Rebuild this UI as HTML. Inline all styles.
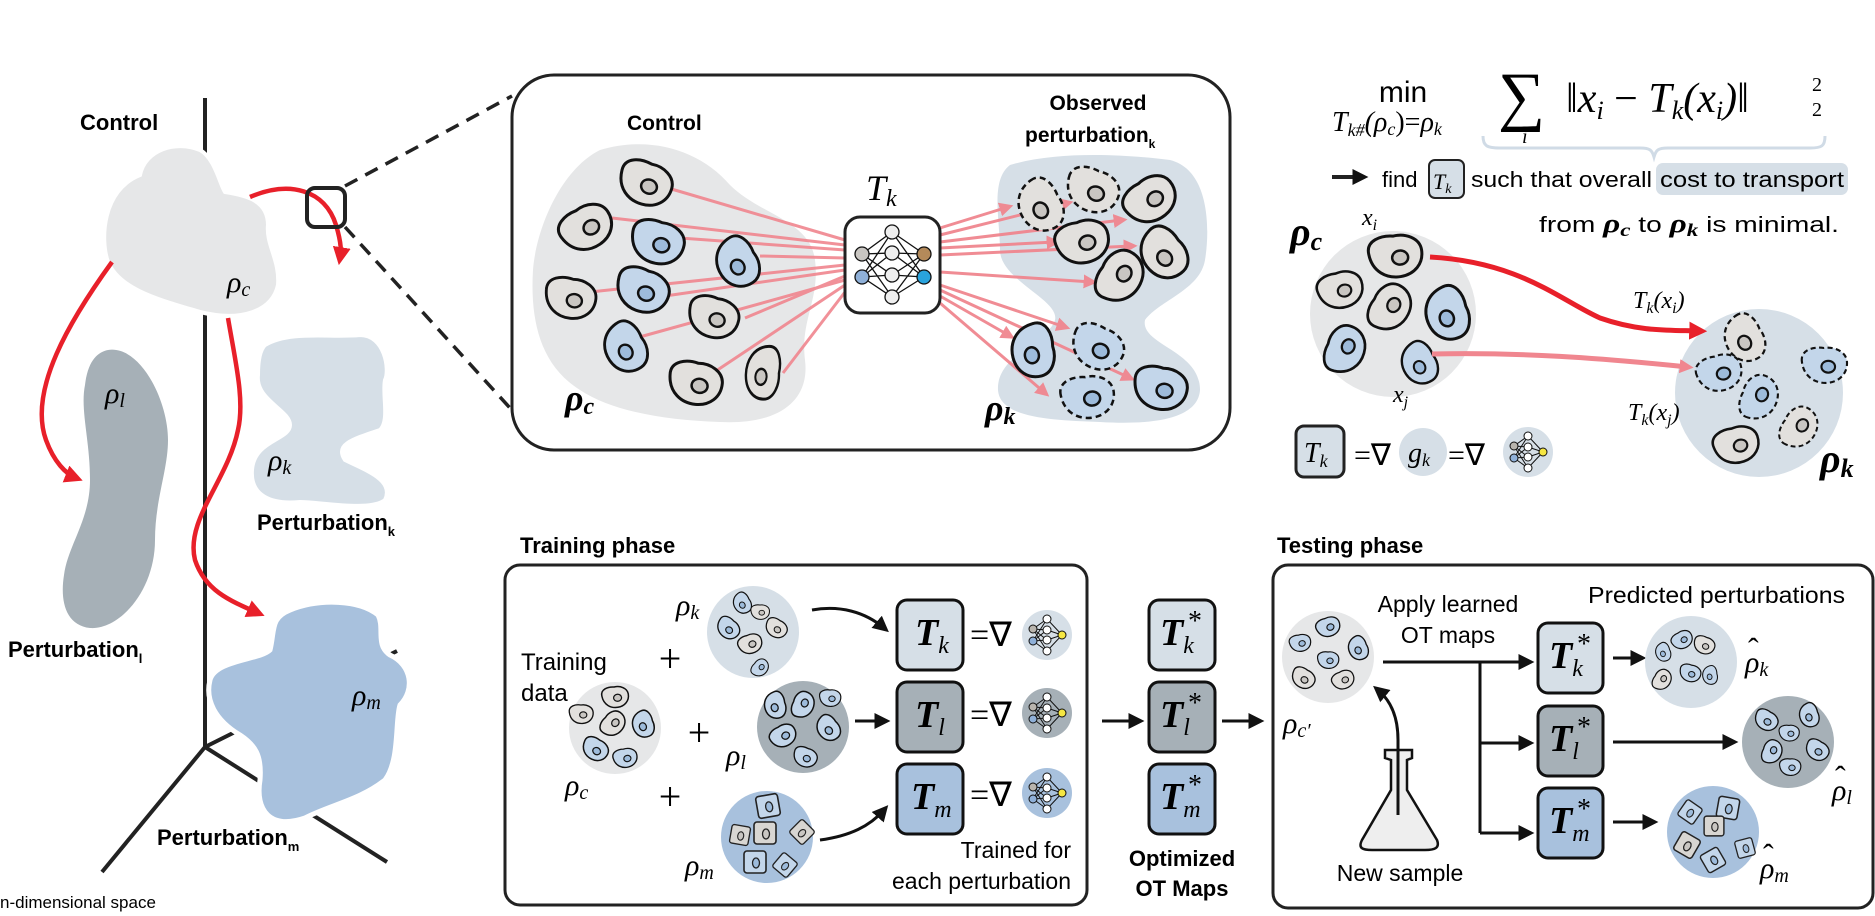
<!DOCTYPE html>
<html><head><meta charset="utf-8"><style>
html,body{margin:0;padding:0;background:#fff;}
svg{display:block;}
.s{font-family:"Liberation Sans",sans-serif;}
.b{font-family:"Liberation Sans",sans-serif;font-weight:bold;}
.m{font-family:"Liberation Serif",serif;font-style:italic;}
.r{font-family:"Liberation Serif",serif;}
</style></head><body>
<svg width="1875" height="916" viewBox="0 0 1875 916" xmlns="http://www.w3.org/2000/svg">
<defs>
<marker id="ar" viewBox="0 0 10 10" refX="6" refY="5" markerWidth="18" markerHeight="18" markerUnits="userSpaceOnUse" orient="auto"><path d="M0,0 L10,5 L0,10 z" fill="#e8202a"/></marker>
<marker id="ap" viewBox="0 0 10 10" refX="6" refY="5" markerWidth="14" markerHeight="14" markerUnits="userSpaceOnUse" orient="auto"><path d="M0,0 L10,5 L0,10 z" fill="#f0868f"/></marker>
<marker id="ak" viewBox="0 0 10 10" refX="6" refY="5" markerWidth="16" markerHeight="16" markerUnits="userSpaceOnUse" orient="auto"><path d="M0,0 L10,5 L0,10 z" fill="#111"/></marker>
<g id="cg"><path d="M-26,-4 C-28,-18 -12,-22 0,-20 C12,-22 26,-16 27,-4 C28,10 18,20 4,21 C-10,22 -24,14 -26,-4Z" fill="#e2e0dd" stroke="#111" stroke-width="3"/><ellipse cx="5" cy="2" rx="8" ry="7" fill="#c9c6c2" stroke="#111" stroke-width="2.5"/></g>
<g id="cb"><path d="M-26,-4 C-28,-18 -12,-22 0,-20 C12,-22 26,-16 27,-4 C28,10 18,20 4,21 C-10,22 -24,14 -26,-4Z" fill="#c3d6ea" stroke="#111" stroke-width="3"/><ellipse cx="5" cy="2" rx="8" ry="7" fill="#9dbbdb" stroke="#111" stroke-width="2.5"/></g>
<g id="dg"><path d="M-26,-4 C-28,-18 -12,-22 0,-20 C12,-22 26,-16 27,-4 C28,10 18,20 4,21 C-10,22 -24,14 -26,-4Z" fill="#e2e0dd" stroke="#111" stroke-width="2.5" stroke-dasharray="6 4"/><ellipse cx="5" cy="2" rx="8" ry="7" fill="#c9c6c2" stroke="#111" stroke-width="2.5"/></g>
<g id="db"><path d="M-26,-4 C-28,-18 -12,-22 0,-20 C12,-22 26,-16 27,-4 C28,10 18,20 4,21 C-10,22 -24,14 -26,-4Z" fill="#c3d6ea" stroke="#111" stroke-width="2.5" stroke-dasharray="6 4"/><ellipse cx="5" cy="2" rx="8" ry="7" fill="#9dbbdb" stroke="#111" stroke-width="2.5"/></g>
<g id="sq"><rect x="-11" y="-11" width="22" height="22" rx="3" fill="#c3d6ea" stroke="#222" stroke-width="1.6"/><ellipse cx="1" cy="1" rx="3.5" ry="5" fill="#9dbbdb" stroke="#222" stroke-width="1.3"/></g>
<g id="sqg"><rect x="-11" y="-11" width="22" height="22" rx="3" fill="#d8d6d2" stroke="#222" stroke-width="1.6"/><ellipse cx="1" cy="1" rx="3.5" ry="5" fill="#c9c6c2" stroke="#222" stroke-width="1.3"/></g>
<g id="nn" stroke="#111" stroke-width="1">
<path d="M-14,-6 L0,-16 M-14,-6 L0,-5 M-14,-6 L0,5 M-14,-6 L0,16 M-14,6 L0,-16 M-14,6 L0,-5 M-14,6 L0,5 M-14,6 L0,16 M0,-16 L15,0 M0,-5 L15,0 M0,5 L15,0 M0,16 L15,0" fill="none"/>
<circle cx="-14" cy="-6" r="4" fill="#b8b4ad"/><circle cx="-14" cy="6" r="4" fill="#8fb0d8"/>
<circle cx="0" cy="-16" r="4" fill="#fff"/><circle cx="0" cy="-5" r="4" fill="#fff"/><circle cx="0" cy="5" r="4" fill="#fff"/><circle cx="0" cy="16" r="4" fill="#fff"/>
<circle cx="15" cy="0" r="4" fill="#f5e642"/>
</g>
</defs>

<!-- LEFT PANEL -->
<line x1="205" y1="98" x2="205" y2="747" stroke="#222" stroke-width="4"/>
<line x1="205" y1="747" x2="102" y2="872" stroke="#222" stroke-width="4"/>
<line x1="205" y1="747" x2="397" y2="651" stroke="#222" stroke-width="4"/>
<line x1="205" y1="747" x2="387" y2="862" stroke="#222" stroke-width="4"/>
<path d="M140,175 C145,150 175,140 200,150 C215,158 220,185 225,192 C245,195 268,200 268,225 C266,245 280,260 278,285 C272,312 240,322 200,312 C160,300 120,290 108,262 C100,240 102,190 140,175Z" fill="#e6e7e8" stroke="#fff" stroke-width="4"/>
<path d="M108,350 C140,345 168,400 168,440 C168,470 155,500 155,540 C155,590 120,630 90,628 C65,625 60,600 64,575 C68,545 90,520 90,480 C90,440 80,410 85,385 C88,360 98,352 108,350Z" fill="#a6b0b7"/>
<path d="M265,345 C290,330 330,338 360,335 C385,335 390,370 385,380 C382,395 390,420 380,430 C350,440 335,445 345,460 C365,470 395,480 385,500 C370,512 320,502 300,502 C270,505 250,495 252,470 C254,440 290,440 290,425 C290,410 255,400 258,375 C258,360 260,350 265,345Z" fill="#d6dfe7" stroke="#fff" stroke-width="4"/>
<path d="M290,610 C320,598 360,600 378,615 C385,628 375,645 390,655 C412,665 415,690 400,705 C395,720 400,760 385,780 C360,800 330,805 305,818 C270,830 255,810 260,780 C262,755 255,745 240,735 C215,720 205,700 210,680 C215,660 260,660 270,650 C275,630 270,618 290,610Z" fill="#a8c1dd" stroke="#fff" stroke-width="5"/>
<text x="80" y="130" class="b" font-size="22">Control</text>
<text x="227" y="292" class="m" font-size="30">ρ<tspan font-size="20" dy="4">c</tspan></text>
<text x="105" y="403" class="m" font-size="30">ρ<tspan font-size="20" dy="4">l</tspan></text>
<text x="268" y="470" class="m" font-size="30">ρ<tspan font-size="20" dy="4">k</tspan></text>
<text x="352" y="705" class="m" font-size="30">ρ<tspan font-size="20" dy="4">m</tspan></text>
<text x="257" y="530" class="b" font-size="22">Perturbation<tspan font-size="13" dy="6">k</tspan></text>
<text x="8" y="657" class="b" font-size="22">Perturbation<tspan font-size="13" dy="6">l</tspan></text>
<text x="157" y="845" class="b" font-size="22">Perturbation<tspan font-size="13" dy="6">m</tspan></text>
<text x="0" y="908" class="s" font-size="17">n-dimensional space</text>
<path d="M112,262 C70,320 28,390 46,440 C54,462 66,474 76,478" fill="none" stroke="#e8202a" stroke-width="4.5" marker-end="url(#ar)"/>
<path d="M250,197 C290,180 325,190 336,225 C342,245 341,252 340,258" fill="none" stroke="#e8202a" stroke-width="4.5" marker-end="url(#ar)"/>
<path d="M228,318 C235,360 245,400 238,430 C228,480 185,520 195,560 C205,590 228,600 258,613" fill="none" stroke="#e8202a" stroke-width="4.5" marker-end="url(#ar)"/>
<rect x="307" y="188" width="38" height="39" rx="8" fill="none" stroke="#222" stroke-width="4"/>
<line x1="345" y1="186" x2="512" y2="96" stroke="#222" stroke-width="3.5" stroke-dasharray="14 9"/>
<line x1="345" y1="227" x2="510" y2="408" stroke="#222" stroke-width="3.5" stroke-dasharray="14 9"/>

<!-- TOP MIDDLE PANEL -->
<rect x="512" y="75" width="718" height="375" rx="42" fill="#fff" stroke="#222" stroke-width="3"/>
<text x="627" y="130" class="b" font-size="21">Control</text>
<path d="M600,150 C650,135 700,150 730,185 C760,215 810,220 815,260 C820,300 800,320 805,360 C810,400 780,425 720,422 C660,420 610,410 580,390 C540,365 530,320 533,270 C536,230 560,170 600,150Z" fill="#e6e7e8"/>
<text x="565" y="410" class="m" font-size="36" font-weight="bold">ρ<tspan font-size="24" dy="4">c</tspan></text>
<g stroke="#f0868f" stroke-width="3" opacity="0.9">
<line x1="668" y1="188" x2="845" y2="240"/><line x1="612" y1="218" x2="845" y2="245"/><line x1="680" y1="238" x2="845" y2="250"/><line x1="760" y1="256" x2="845" y2="258"/><line x1="590" y1="292" x2="845" y2="265"/><line x1="665" y1="296" x2="845" y2="270"/><line x1="745" y1="318" x2="845" y2="276"/><line x1="636" y1="338" x2="845" y2="280"/><line x1="710" y1="375" x2="845" y2="285"/><line x1="783" y1="373" x2="845" y2="292"/>
</g>
<use href="#cg" transform="translate(645,183) rotate(20)"/>
<use href="#cg" transform="translate(586,228) rotate(-30)"/>
<use href="#cb" transform="translate(657,242) rotate(15)"/>
<use href="#cb" transform="translate(737,262) rotate(60) scale(0.95)"/>
<use href="#cg" transform="translate(570,298) rotate(10) scale(0.95)"/>
<use href="#cb" transform="translate(642,290) rotate(20)"/>
<use href="#cg" transform="translate(713,317) rotate(15) scale(0.95)"/>
<use href="#cb" transform="translate(625,347) rotate(60) scale(0.95)"/>
<use href="#cg" transform="translate(695,383) rotate(10)"/>
<use href="#cg" transform="translate(763,372) rotate(95) scale(1,0.8)"/>
<!-- target -->
<path d="M1010,165 C1060,150 1130,155 1170,160 C1210,170 1210,230 1205,260 C1200,290 1160,300 1145,320 C1140,345 1200,350 1200,390 C1198,420 1150,425 1100,422 C1050,420 1000,418 998,390 C996,355 1050,340 1055,320 C1060,300 1000,280 1000,250 C1000,220 990,180 1010,165Z" fill="#d6dfe7"/>
<text x="1098" y="110" class="b" font-size="21" text-anchor="middle">Observed</text>
<text x="1025" y="142" class="b" font-size="21">perturbation<tspan font-size="12" dy="6">k</tspan></text>
<text x="985" y="420" class="m" font-size="36" font-weight="bold">ρ<tspan font-size="24" dy="4">k</tspan></text>
<g stroke="#f0868f" stroke-width="3" fill="none" opacity="0.95">
<line x1="940" y1="228" x2="1008" y2="207" marker-end="url(#ap)"/><line x1="940" y1="235" x2="1068" y2="203" marker-end="url(#ap)"/><line x1="940" y1="242" x2="1122" y2="220" marker-end="url(#ap)"/><line x1="940" y1="248" x2="1055" y2="242" marker-end="url(#ap)"/><line x1="940" y1="255" x2="1132" y2="246" marker-end="url(#ap)"/><line x1="940" y1="272" x2="1092" y2="282" marker-end="url(#ap)"/><line x1="940" y1="285" x2="1065" y2="327" marker-end="url(#ap)"/><line x1="940" y1="296" x2="1010" y2="336" marker-end="url(#ap)"/><line x1="940" y1="303" x2="1045" y2="393" marker-end="url(#ap)"/><line x1="940" y1="290" x2="1130" y2="378" marker-end="url(#ap)"/>
</g>
<use href="#dg" transform="translate(1040,205) rotate(60)"/>
<use href="#dg" transform="translate(1092,190) rotate(20)"/>
<use href="#cg" transform="translate(1150,200) rotate(-35)"/>
<use href="#cg" transform="translate(1082,242) rotate(-15)"/>
<use href="#cg" transform="translate(1163,253) rotate(50)"/>
<use href="#cg" transform="translate(1120,277) rotate(-60)"/>
<use href="#cb" transform="translate(1033,350) rotate(80)"/>
<use href="#db" transform="translate(1097,347) rotate(25)"/>
<use href="#cb" transform="translate(1160,388) rotate(10)"/>
<use href="#db" transform="translate(1087,397) rotate(-5)"/>
<!-- NN -->
<text x="866" y="200" class="m" font-size="36">T<tspan font-size="24" dy="6">k</tspan></text>
<rect x="845" y="217" width="95" height="96" rx="15" fill="#fff" stroke="#222" stroke-width="3"/>
<g stroke="#111" stroke-width="1.3">
<path d="M862,254 L892,232 M862,254 L892,253 M862,254 L892,275 M862,254 L892,297 M862,277 L892,232 M862,277 L892,253 M862,277 L892,275 M862,277 L892,297 M892,232 L924,254 M892,253 L924,254 M892,275 L924,254 M892,297 L924,254 M892,232 L924,277 M892,253 L924,277 M892,275 L924,277 M892,297 L924,277" fill="none"/>
<circle cx="862" cy="254" r="7" fill="#c9c6c2"/><circle cx="862" cy="277" r="7" fill="#8fb0d8"/>
<circle cx="892" cy="232" r="7" fill="#eee"/><circle cx="892" cy="253" r="7" fill="#eee"/><circle cx="892" cy="275" r="7" fill="#eee"/><circle cx="892" cy="297" r="7" fill="#eee"/>
<circle cx="924" cy="254" r="7" fill="#b48a5a"/><circle cx="924" cy="277" r="7" fill="#29a3dd"/>
</g>

<!-- TOP RIGHT -->
<text x="1403" y="102" class="s" font-size="30" text-anchor="middle">min</text>
<text x="1332" y="131" class="m" font-size="28">T<tspan font-size="18" dy="5">k#</tspan><tspan dy="-5">(ρ</tspan><tspan font-size="18" dy="4">c</tspan><tspan dy="-4" font-style="normal">)=</tspan>ρ<tspan font-size="18" dy="4">k</tspan></text>
<text x="1498" y="118" class="r" font-size="66">∑</text>
<text x="1522" y="143" class="m" font-size="20">i</text>
<text x="1566" y="112" class="m" font-size="42">‖x<tspan font-size="26" dy="7">i</tspan><tspan dy="-7" font-style="normal"> − </tspan>T<tspan font-size="26" dy="7">k</tspan><tspan dy="-7">(x</tspan><tspan font-size="26" dy="7">i</tspan><tspan dy="-7">)‖</tspan></text>
<text x="1812" y="91" class="r" font-size="20">2</text><text x="1812" y="116" class="r" font-size="20">2</text>
<path d="M1483,136 C1483,146 1487,148 1500,148 L1640,148 C1650,148 1652,150 1654,157 C1656,150 1658,148 1668,148 L1810,148 C1822,148 1825,146 1825,136" fill="none" stroke="#d0dbe6" stroke-width="3"/>
<line x1="1332" y1="177" x2="1362" y2="177" stroke="#222" stroke-width="4" marker-end="url(#ak)"/>
<text x="1382" y="187" class="s" font-size="22">find</text>
<rect x="1429" y="160" width="35" height="38" rx="6" fill="#d6dfe7" stroke="#222" stroke-width="2"/>
<text x="1433" y="189" class="m" font-size="22">T<tspan font-size="14" dy="4">k</tspan></text>
<text x="1471" y="187" class="s" font-size="22" textLength="181" lengthAdjust="spacingAndGlyphs">such that overall</text>
<rect x="1656" y="163" width="192" height="32" rx="7" fill="#d6dfe7"/>
<text x="1660" y="187" class="s" font-size="22" textLength="184" lengthAdjust="spacingAndGlyphs">cost to transport</text>
<text x="1539" y="232" class="s" font-size="22" textLength="300" lengthAdjust="spacingAndGlyphs">from <tspan class="m" font-weight="bold" font-size="26">ρ</tspan><tspan class="m" font-weight="bold" font-size="18" dy="4">c</tspan><tspan dy="-4"> to </tspan><tspan class="m" font-weight="bold" font-size="26">ρ</tspan><tspan class="m" font-weight="bold" font-size="18" dy="4">k</tspan><tspan dy="-4"> is minimal.</tspan></text>
<text x="1290" y="245" class="m" font-size="40" font-weight="bold">ρ<tspan font-size="26" dy="5">c</tspan></text>
<text x="1362" y="225" class="m" font-size="24">x<tspan font-size="16" dy="5">i</tspan></text>
<circle cx="1393" cy="314" r="83" fill="#e6e7e8"/>
<circle cx="1759" cy="393" r="84" fill="#d6dfe7"/>
<use href="#cg" transform="translate(1395,256) rotate(-5)"/>
<use href="#cg" transform="translate(1340,290) rotate(-15) scale(0.85)"/>
<use href="#cg" transform="translate(1390,308) rotate(-60) scale(0.9)"/>
<use href="#cb" transform="translate(1447,313) rotate(70)"/>
<use href="#cb" transform="translate(1345,350) rotate(-70) scale(0.9)"/>
<use href="#cb" transform="translate(1419,363) rotate(60) scale(0.8)"/>
<text x="1393" y="402" class="m" font-size="24">x<tspan font-size="16" dy="5">j</tspan></text>
<path d="M1430,257 C1520,262 1560,300 1600,318 C1640,332 1670,330 1700,331" fill="none" stroke="#e8202a" stroke-width="5" marker-end="url(#ar)"/>
<path d="M1432,354 C1520,352 1600,358 1688,367" fill="none" stroke="#f0868f" stroke-width="5" marker-end="url(#ap)"/>
<text x="1633" y="308" class="m" font-size="24">T<tspan font-size="16" dy="5">k</tspan><tspan dy="-5">(x</tspan><tspan font-size="16" dy="5">i</tspan><tspan dy="-5">)</tspan></text>
<text x="1628" y="420" class="m" font-size="24">T<tspan font-size="16" dy="5">k</tspan><tspan dy="-5">(x</tspan><tspan font-size="16" dy="5">j</tspan><tspan dy="-5">)</tspan></text>
<use href="#dg" transform="translate(1744,338) rotate(60) scale(0.9)"/>
<use href="#db" transform="translate(1719,373) rotate(-15) scale(0.85)"/>
<use href="#db" transform="translate(1824,365) rotate(0) scale(0.85)"/>
<use href="#db" transform="translate(1759,398) rotate(-70) scale(0.85)"/>
<use href="#dg" transform="translate(1799,428) rotate(-60) scale(0.8)"/>
<use href="#cg" transform="translate(1736,445) rotate(-15) scale(0.85)"/>
<text x="1820" y="472" class="m" font-size="40" font-weight="bold">ρ<tspan font-size="26" dy="5">k</tspan></text>
<rect x="1296" y="426" width="48" height="51" rx="8" fill="#d6dfe7" stroke="#222" stroke-width="3"/>
<text x="1304" y="462" class="m" font-size="28">T<tspan font-size="18" dy="5">k</tspan></text>
<text x="1354" y="465" class="r" font-size="30">=∇</text>
<circle cx="1423" cy="452" r="24" fill="#d6dfe7"/>
<text x="1408" y="462" class="m" font-size="28">g<tspan font-size="18" dy="4">k</tspan></text>
<text x="1448" y="465" class="r" font-size="30">=∇</text>
<circle cx="1528" cy="452" r="25" fill="#d6dfe7"/>
<use href="#nn" transform="translate(1528,452)"/>

<!-- TRAINING -->
<text x="520" y="553" class="b" font-size="22">Training phase</text>
<rect x="505" y="565" width="582" height="340" rx="15" fill="none" stroke="#222" stroke-width="3"/>
<text x="521" y="670" class="s" font-size="24">Training</text>
<text x="521" y="701" class="s" font-size="24">data</text>
<circle cx="615" cy="728" r="46" fill="#e6e7e8"/>
<use href="#cg" transform="translate(615,697) rotate(-5) scale(0.5)"/>
<use href="#cg" transform="translate(581,714) scale(0.45)"/>
<use href="#cg" transform="translate(613,724) rotate(-50) scale(0.5)"/>
<use href="#cb" transform="translate(643,724) rotate(70) scale(0.5)"/>
<use href="#cb" transform="translate(595,749) rotate(30) scale(0.5)"/>
<use href="#cb" transform="translate(625,758) rotate(-10) scale(0.45)"/>
<text x="565" y="795" class="m" font-size="30">ρ<tspan font-size="20" dy="4">c</tspan></text>
<text x="670" y="672" class="r" font-size="40" text-anchor="middle">+</text>
<text x="699" y="746" class="r" font-size="40" text-anchor="middle">+</text>
<text x="670" y="810" class="r" font-size="40" text-anchor="middle">+</text>
<circle cx="753" cy="632" r="46" fill="#d6dfe7"/>
<use href="#cb" transform="translate(742,603) rotate(60) scale(0.4)"/>
<use href="#cg" transform="translate(760,612) scale(0.35)"/>
<use href="#cb" transform="translate(728,628) rotate(40) scale(0.45)"/>
<use href="#cg" transform="translate(776,628) rotate(30) scale(0.42)"/>
<use href="#cg" transform="translate(750,644) rotate(-20) scale(0.45)"/>
<use href="#cb" transform="translate(760,668) rotate(-50) scale(0.35)"/>
<text x="676" y="615" class="m" font-size="30">ρ<tspan font-size="20" dy="4">k</tspan></text>
<circle cx="803" cy="727" r="46" fill="#a6b0b7"/>
<use href="#cb" transform="translate(775,705) rotate(75) scale(0.5)"/>
<use href="#cb" transform="translate(803,705) rotate(-70) scale(0.5)"/>
<use href="#cb" transform="translate(830,698) scale(0.4)"/>
<use href="#cb" transform="translate(828,728) rotate(50) scale(0.5)"/>
<use href="#cb" transform="translate(783,736) rotate(-30) scale(0.5)"/>
<use href="#cb" transform="translate(805,757) rotate(20) scale(0.45)"/>
<text x="726" y="765" class="m" font-size="30">ρ<tspan font-size="20" dy="4">l</tspan></text>
<circle cx="767" cy="837" r="46" fill="#a8c1dd"/>
<use href="#sq" transform="translate(768,806) rotate(-10)"/>
<use href="#sqg" transform="translate(740,835) rotate(10) scale(0.85)"/>
<use href="#sqg" transform="translate(765,833)"/>
<use href="#sqg" transform="translate(802,832) rotate(45) scale(0.85)"/>
<use href="#sq" transform="translate(755,862)"/>
<use href="#sq" transform="translate(785,865) rotate(40) scale(0.85)"/>
<text x="685" y="875" class="m" font-size="30">ρ<tspan font-size="20" dy="4">m</tspan></text>
<path d="M812,610 C840,605 865,612 884,628" fill="none" stroke="#111" stroke-width="3" marker-end="url(#ak)"/>
<line x1="855" y1="721" x2="884" y2="721" stroke="#111" stroke-width="3" marker-end="url(#ak)"/>
<path d="M820,840 C850,836 870,826 884,810" fill="none" stroke="#111" stroke-width="3" marker-end="url(#ak)"/>
<g stroke="#111" stroke-width="3">
<rect x="897" y="600" width="66" height="70" rx="10" fill="#d6dfe7"/>
<rect x="897" y="682" width="66" height="70" rx="10" fill="#a6b0b7"/>
<rect x="897" y="764" width="66" height="70" rx="10" fill="#a8c1dd"/>
<rect x="1149" y="600" width="66" height="70" rx="10" fill="#d6dfe7"/>
<rect x="1149" y="682" width="66" height="70" rx="10" fill="#a6b0b7"/>
<rect x="1149" y="764" width="66" height="70" rx="10" fill="#a8c1dd"/>
</g>
<g class="m" font-size="38" font-weight="bold">
<text x="915" y="645">T<tspan font-size="24" dy="8" font-weight="normal">k</tspan></text>
<text x="915" y="727">T<tspan font-size="24" dy="8" font-weight="normal">l</tspan></text>
<text x="911" y="809">T<tspan font-size="24" dy="8" font-weight="normal">m</tspan></text>
<text x="1160" y="645">T<tspan font-size="24" dy="8" font-weight="normal">k</tspan></text>
<text x="1160" y="727">T<tspan font-size="24" dy="8" font-weight="normal">l</tspan></text>
<text x="1160" y="809">T<tspan font-size="24" dy="8" font-weight="normal">m</tspan></text>
</g>
<g class="r" font-size="28"><text x="1188" y="630">*</text><text x="1188" y="712">*</text><text x="1188" y="794">*</text></g>
<g class="r" font-size="34"><text x="970" y="646">=∇</text><text x="970" y="726">=∇</text><text x="970" y="806">=∇</text></g>
<circle cx="1047" cy="635" r="25" fill="#d6dfe7"/><use href="#nn" transform="translate(1047,635)"/>
<circle cx="1047" cy="713" r="25" fill="#a6b0b7"/><use href="#nn" transform="translate(1047,713)"/>
<circle cx="1047" cy="793" r="25" fill="#a8c1dd"/><use href="#nn" transform="translate(1047,793)"/>
<text x="1071" y="858" class="s" font-size="23" text-anchor="end">Trained for</text>
<text x="1071" y="889" class="s" font-size="23" text-anchor="end">each perturbation</text>
<line x1="1102" y1="721" x2="1138" y2="721" stroke="#111" stroke-width="3" marker-end="url(#ak)"/>
<line x1="1222" y1="721" x2="1258" y2="721" stroke="#111" stroke-width="3" marker-end="url(#ak)"/>
<text x="1182" y="866" class="b" font-size="22" text-anchor="middle">Optimized</text>
<text x="1182" y="896" class="b" font-size="22" text-anchor="middle">OT Maps</text>

<!-- TESTING -->
<text x="1277" y="553" class="b" font-size="22">Testing phase</text>
<rect x="1273" y="565" width="600" height="343" rx="15" fill="none" stroke="#222" stroke-width="3"/>
<circle cx="1328" cy="657" r="46" fill="#e6e7e8"/>
<use href="#cb" transform="translate(1328,627) rotate(-20) scale(0.45)"/>
<use href="#cb" transform="translate(1300,643) rotate(-10) scale(0.4)"/>
<use href="#cb" transform="translate(1358,648) rotate(65) scale(0.45)"/>
<use href="#cb" transform="translate(1328,660) scale(0.4)"/>
<use href="#cg" transform="translate(1303,678) rotate(30) scale(0.45)"/>
<use href="#cg" transform="translate(1343,680) rotate(-25) scale(0.42)"/>
<text x="1283" y="733" class="m" font-size="30">ρ<tspan font-size="20" dy="4">c′</tspan></text>
<text x="1448" y="612" class="s" font-size="23" text-anchor="middle">Apply learned</text>
<text x="1448" y="643" class="s" font-size="23" text-anchor="middle">OT maps</text>
<line x1="1383" y1="662" x2="1528" y2="662" stroke="#111" stroke-width="3" marker-end="url(#ak)"/>
<path d="M1480,662 L1480,833" stroke="#111" stroke-width="3" fill="none"/>
<line x1="1480" y1="743" x2="1528" y2="743" stroke="#111" stroke-width="3" marker-end="url(#ak)"/>
<line x1="1480" y1="833" x2="1528" y2="833" stroke="#111" stroke-width="3" marker-end="url(#ak)"/>
<path d="M1385,750 L1412,750 L1412,758 L1407,760 L1407,790 L1437,840 C1440,848 1435,850 1425,850 L1372,850 C1362,850 1358,848 1362,840 L1391,790 L1391,760 L1385,758 Z" fill="#eeeeee" stroke="#111" stroke-width="2.5"/>
<path d="M1398,815 L1398,740 C1398,715 1390,700 1378,690" fill="none" stroke="#111" stroke-width="3" marker-end="url(#ak)"/>
<text x="1400" y="881" class="s" font-size="23" text-anchor="middle">New sample</text>
<g stroke="#111" stroke-width="3">
<rect x="1538" y="623" width="65" height="70" rx="10" fill="#d6dfe7"/>
<rect x="1538" y="706" width="65" height="70" rx="10" fill="#a6b0b7"/>
<rect x="1538" y="788" width="65" height="70" rx="10" fill="#a8c1dd"/>
</g>
<g class="m" font-size="38" font-weight="bold">
<text x="1549" y="668">T<tspan font-size="24" dy="8" font-weight="normal">k</tspan></text>
<text x="1549" y="751">T<tspan font-size="24" dy="8" font-weight="normal">l</tspan></text>
<text x="1549" y="833">T<tspan font-size="24" dy="8" font-weight="normal">m</tspan></text>
</g>
<g class="r" font-size="28"><text x="1577" y="653">*</text><text x="1577" y="736">*</text><text x="1577" y="818">*</text></g>
<text x="1588" y="603" class="s" font-size="23" textLength="257" lengthAdjust="spacingAndGlyphs">Predicted perturbations</text>
<line x1="1613" y1="658" x2="1640" y2="658" stroke="#111" stroke-width="3" marker-end="url(#ak)"/>
<line x1="1613" y1="742" x2="1732" y2="742" stroke="#111" stroke-width="3" marker-end="url(#ak)"/>
<line x1="1613" y1="822" x2="1652" y2="822" stroke="#111" stroke-width="3" marker-end="url(#ak)"/>
<circle cx="1691" cy="662" r="46" fill="#d6dfe7"/>
<use href="#cb" transform="translate(1682,640) rotate(-30) scale(0.4)"/>
<use href="#cg" transform="translate(1704,645) rotate(20) scale(0.4)"/>
<use href="#cb" transform="translate(1663,652) rotate(70) scale(0.35)"/>
<use href="#cb" transform="translate(1690,673) rotate(15) scale(0.4)"/>
<use href="#cb" transform="translate(1710,675) rotate(80) scale(0.35)"/>
<use href="#cg" transform="translate(1662,680) rotate(-60) scale(0.4)"/>
<text x="1745" y="672" class="m" font-size="30">ρ<tspan font-size="20" dy="4">k</tspan></text>
<text x="1748" y="660" class="r" font-size="32">ˆ</text>
<circle cx="1788" cy="742" r="46" fill="#a6b0b7"/>
<use href="#cb" transform="translate(1766,720) rotate(30) scale(0.45)"/>
<use href="#cb" transform="translate(1809,715) rotate(70) scale(0.45)"/>
<use href="#cb" transform="translate(1789,733) scale(0.38)"/>
<use href="#cb" transform="translate(1772,752) rotate(-70) scale(0.45)"/>
<use href="#cb" transform="translate(1817,750) rotate(30) scale(0.45)"/>
<use href="#cb" transform="translate(1790,767) scale(0.4)"/>
<text x="1832" y="800" class="m" font-size="30">ρ<tspan font-size="20" dy="4">l</tspan></text>
<text x="1835" y="788" class="r" font-size="32">ˆ</text>
<circle cx="1713" cy="832" r="46" fill="#a8c1dd"/>
<use href="#sq" transform="translate(1690,812) rotate(35) scale(0.85)"/>
<use href="#sq" transform="translate(1728,808) rotate(10) scale(0.95)"/>
<use href="#sqg" transform="translate(1714,826) scale(0.9)"/>
<use href="#sqg" transform="translate(1687,845) rotate(30) scale(0.95)"/>
<use href="#sq" transform="translate(1713,860) rotate(-30) scale(0.9)"/>
<use href="#sq" transform="translate(1745,848) rotate(-15) scale(0.8)"/>
<text x="1760" y="878" class="m" font-size="30">ρ<tspan font-size="20" dy="4">m</tspan></text>
<text x="1763" y="866" class="r" font-size="32">ˆ</text>
</svg>
</body></html>
